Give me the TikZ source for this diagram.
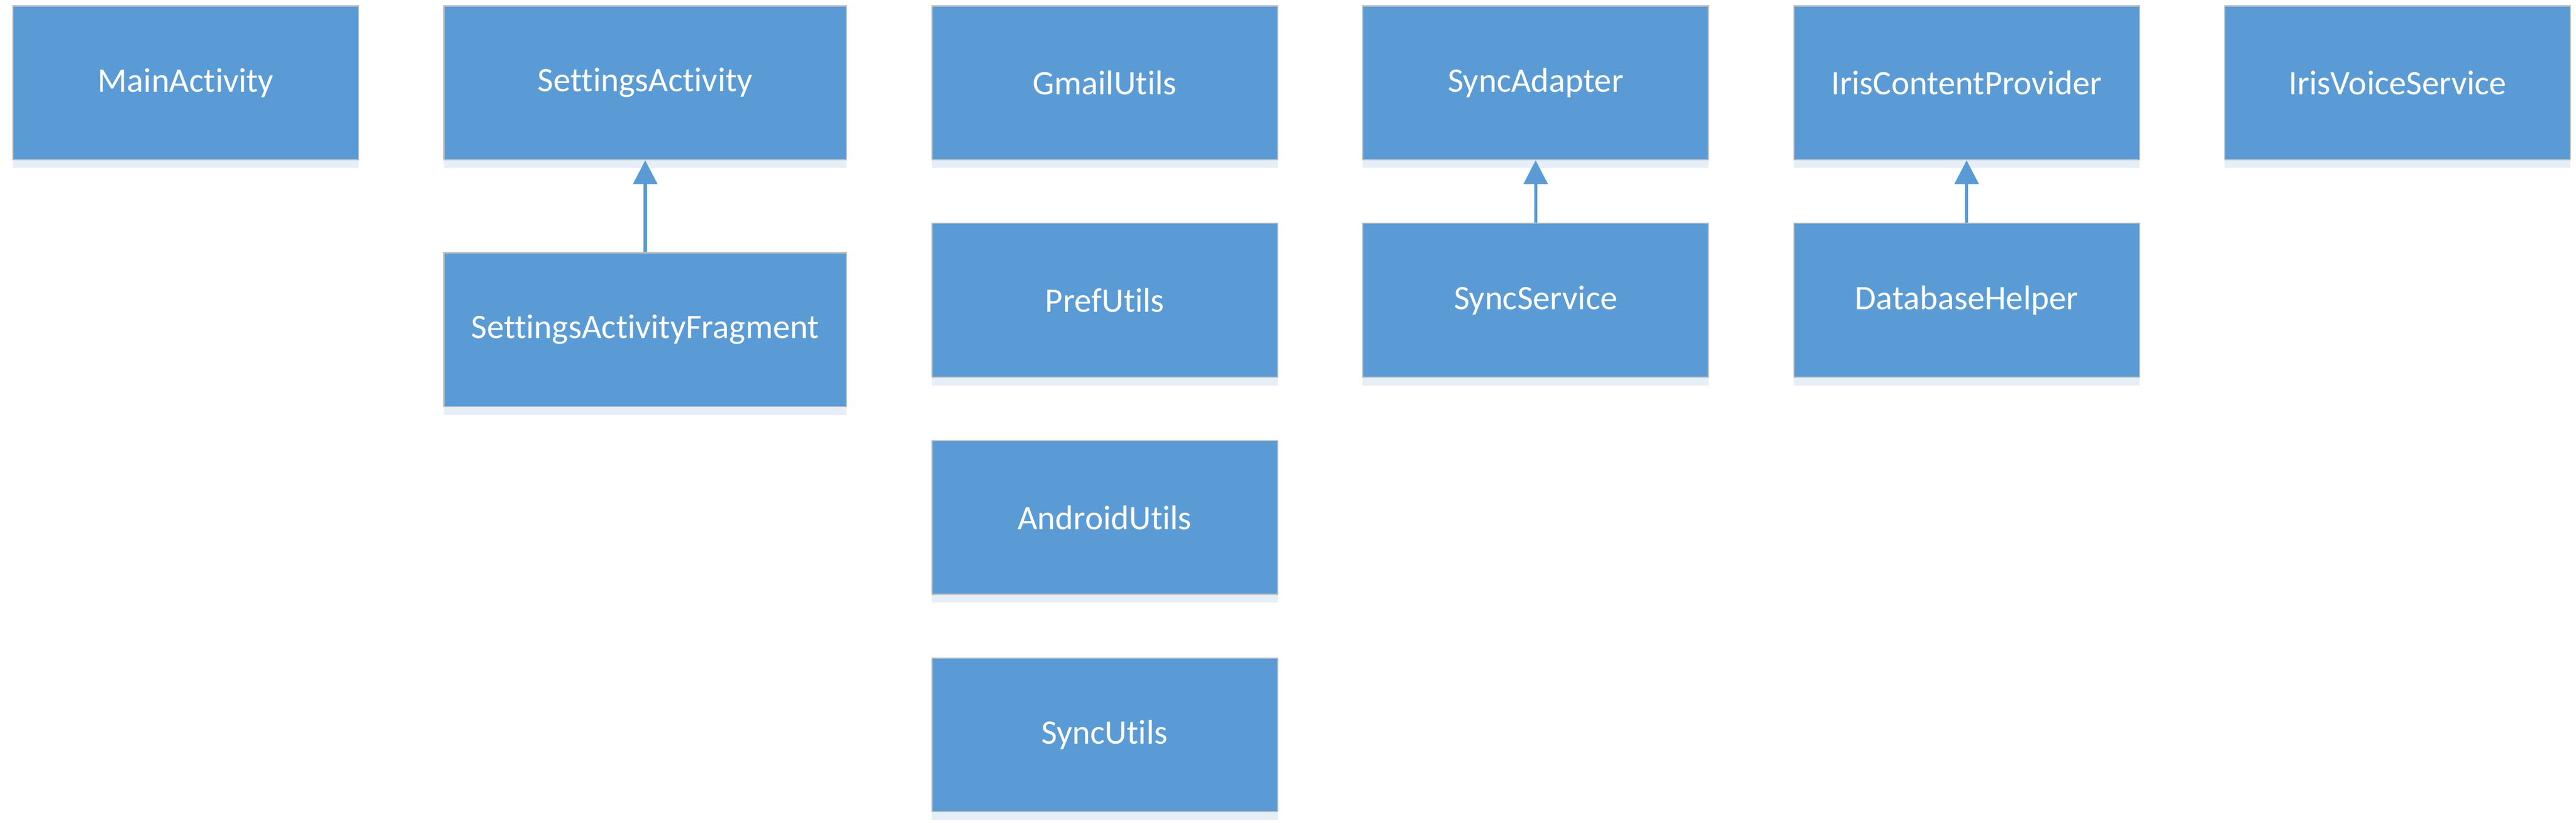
\documentclass[tikz,border=0pt]{standalone}
\usepackage{fontspec}
\setmainfont{Carlito}[Ligatures=NoCommon]
\usetikzlibrary{
arrows.meta,
positioning,
shadows
}
\definecolor{boxblue}{HTML}{5B9BD5}
\definecolor{boxline}{HTML}{BFBFBF}
\definecolor{boxshade}{HTML}{E6EEF8}
\tikzset{>={Triangle[length=0.58cm,width=0.58cm]}}

\begin{document}
\begin{tikzpicture}[node distance=1.52cm and 2.05cm,
		cls/.style={draw=boxline,line width=0.8pt,fill=boxblue,text=white,inner sep=0pt,
			minimum width=8.43cm,minimum height=3.75cm,font=\fontsize{23.8}{28}\selectfont,
			drop shadow={shadow xshift=0cm,shadow yshift=-0.2cm,fill=boxshade,opacity=1}},
		widecls/.style={cls,minimum width=9.82cm},
		inherits/.style={->,draw=boxblue,line width=0.08cm}]
		\useasboundingbox (0,0) rectangle (62.81,20.06);
		
		\node[cls,anchor=north west] (main) at (0.30,19.93) {MainActivity};
		\node[widecls,right=of main] (settings) {SettingsActivity};
		\node[widecls,below=2.24cm of settings] (fragment) {SettingsActivityFragment};
		
		\node[cls,right=of settings] (gmail) {GmailUtils};
		\node[cls,below=of gmail] (pref) {PrefUtils};
		\node[cls,below=of pref] (android) {AndroidUtils};
		\node[cls,below=of android] (syncutils) {SyncUtils};
		
		\node[cls,right=of gmail] (adapter) {SyncAdapter};
		\node[cls,below=of adapter] (service) {SyncService};
		
		\node[cls,right=of adapter] (provider) {IrisContentProvider};
		\node[cls,below=of provider] (dbhelper) {DatabaseHelper};
		
		\node[cls,right=of provider] (voice) {IrisVoiceService};
		
		\draw[inherits] (fragment) -- (settings);
		\draw[inherits] (service) -- (adapter);
		\draw[inherits] (dbhelper) -- (provider);
	\end{tikzpicture}
\end{document}
